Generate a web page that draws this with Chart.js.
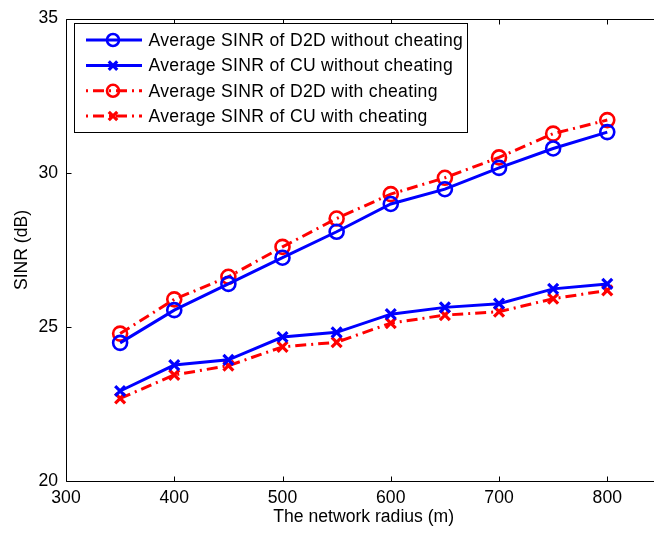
<!DOCTYPE html>
<html>
<head>
<meta charset="utf-8">
<style>
html,body{margin:0;padding:0;background:#fff;overflow:hidden;width:654px;height:536px}
#wrap{position:relative;width:654px;height:536px;overflow:hidden}
canvas{display:block}
</style>
<script src="https://cdn.jsdelivr.net/npm/chart.js@4"></script>
</head>
<body>
<div id="wrap"><canvas id="c" width="680" height="536"></canvas></div>
<script>
// ---- data ----
const radius = [350, 400, 450, 500, 550, 600, 650, 700, 750, 800];
const d2dWithout = [24.49, 25.55, 26.40, 27.25, 28.09, 28.99, 29.47, 30.16, 30.79, 31.32];
const cuWithout  = [22.93, 23.77, 23.94, 24.68, 24.83, 25.42, 25.64, 25.76, 26.24, 26.40];
const d2dWith    = [24.79, 25.90, 26.63, 27.60, 28.52, 29.31, 29.84, 30.50, 31.27, 31.71];
const cuWith     = [22.69, 23.45, 23.75, 24.36, 24.51, 25.13, 25.39, 25.50, 25.92, 26.19];
const seriesLabels = [
  'Average SINR of D2D without cheating',
  'Average SINR of CU without cheating',
  'Average SINR of D2D with cheating',
  'Average SINR of CU with cheating'
];
const xTicks = [300, 400, 500, 600, 700, 800];
const yTicks = [20, 25, 30, 35];
const xTitle = 'The network radius (m)';
const yTitle = 'SINR (dB)';

const FONT = '"Liberation Sans", Arial, Helvetica, sans-serif';
const FS = 17.6;
const BLUE = '#0000ff', RED = '#ff0000';
const DASHDOT = [11, 5, 2, 5];

const pts = arr => arr.map((v, i) => ({x: radius[i], y: v}));

function mk(label, data, color, dash, style) {
  return {
    label, data: pts(data),
    borderColor: color, backgroundColor: 'rgba(0,0,0,0)',
    borderWidth: 3, borderDash: dash,
    pointStyle: style,
    pointRadius: 7,
    pointBorderWidth: style === 'circle' ? 2.6 : 3.2,
    pointBorderColor: color, pointBackgroundColor: 'rgba(0,0,0,0)',
    pointHoverRadius: 0, tension: 0, fill: false
  };
}

const datasets = [
  mk(seriesLabels[0], d2dWithout, BLUE, [], 'circle'),
  mk(seriesLabels[1], cuWithout, BLUE, [], 'crossRot'),
  mk(seriesLabels[2], d2dWith, RED, DASHDOT, 'circle'),
  mk(seriesLabels[3], cuWith, RED, DASHDOT, 'crossRot')
];

function drawMarker(ctx, style, x, y, r) {
  ctx.beginPath();
  if (style === 'circle') {
    ctx.arc(x, y, r, 0, Math.PI * 2);
  } else {
    const o = r * Math.cos(Math.PI / 4);
    ctx.moveTo(x - o, y - o); ctx.lineTo(x + o, y + o);
    ctx.moveTo(x - o, y + o); ctx.lineTo(x + o, y - o);
  }
  ctx.stroke();
}

const framePlugin = {
  id: 'frame',
  afterDraw(chart) {
    const ctx = chart.ctx;
    const {left, right, top, bottom} = chart.chartArea;
    const xs = chart.scales.x, ys = chart.scales.y;
    const L = Math.round(left) + 0.5, R = Math.round(right) + 0.5;
    const T = Math.round(top) + 0.5, B = Math.round(bottom) + 0.5;
    ctx.save();
    ctx.strokeStyle = '#000';
    ctx.lineWidth = 1;
    ctx.setLineDash([]);
    ctx.beginPath();
    ctx.rect(L, T, R - L, B - T);
    xs.ticks.forEach(t => {
      const p = Math.round(xs.getPixelForValue(t.value)) + 0.5;
      ctx.moveTo(p, B); ctx.lineTo(p, B - 5);
      ctx.moveTo(p, T); ctx.lineTo(p, T + 5);
    });
    ys.ticks.forEach(t => {
      const p = Math.round(ys.getPixelForValue(t.value)) + 0.5;
      ctx.moveTo(L, p); ctx.lineTo(L + 5, p);
      ctx.moveTo(R, p); ctx.lineTo(R - 5, p);
    });
    ctx.stroke();

    // legend box
    const bx0 = 74.5, by0 = 23.5, bx1 = 467.5, by1 = 132.5;
    ctx.fillStyle = '#fff';
    ctx.fillRect(bx0, by0, bx1 - bx0, by1 - by0);
    ctx.strokeRect(bx0, by0, bx1 - bx0, by1 - by0);
    const rowY = [40, 65.6, 90.8, 116];
    chart.data.datasets.forEach((ds, i) => {
      const y = rowY[i];
      ctx.strokeStyle = ds.borderColor;
      ctx.lineWidth = ds.borderWidth;
      ctx.setLineDash(ds.borderDash || []);
      ctx.lineDashOffset = (ds.borderDash && ds.borderDash.length) ? 16 : 0;
      ctx.beginPath();
      ctx.moveTo(86, y); ctx.lineTo(142, y);
      ctx.stroke();
      ctx.setLineDash([]);
      ctx.lineDashOffset = 0;
      ctx.lineWidth = ds.pointBorderWidth;
      drawMarker(ctx, ds.pointStyle, 113, y, 6);
      ctx.fillStyle = '#000';
      ctx.font = FS + 'px ' + FONT;
      ctx.textBaseline = 'middle';
      ctx.textAlign = 'left';
      if ('letterSpacing' in ctx) ctx.letterSpacing = '0.3px';
      ctx.fillText(ds.label, 148.5, y + 1);
      if ('letterSpacing' in ctx) ctx.letterSpacing = '0px';
    });
    ctx.restore();
  }
};

new Chart(document.getElementById('c'), {
  type: 'line',
  data: {datasets},
  plugins: [framePlugin],
  options: {
    responsive: false,
    animation: false,
    devicePixelRatio: 1,
    layout: {padding: {top: 10, right: 18.6, left: 0, bottom: 0}},
    plugins: {legend: {display: false}, tooltip: {enabled: false}},
    events: [],
    scales: {
      x: {
        type: 'linear', min: 300, max: 850,
        afterBuildTicks: s => { s.ticks = xTicks.map(v => ({value: v})); },
        afterFit: s => { s.height = 54.6; },
        grid: {display: false, drawTicks: false},
        border: {display: false},
        ticks: {color: '#000', font: {family: FONT, size: FS}, padding: 6.5, maxRotation: 0,
                autoSkip: false, callback: v => String(v)},
        title: {display: true, text: xTitle, color: '#000', font: {family: FONT, size: FS},
                padding: {top: 0, bottom: 8.4}}
      },
      y: {
        type: 'linear', min: 20, max: 35,
        afterBuildTicks: s => { s.ticks = yTicks.map(v => ({value: v})); },
        afterFit: s => { s.width = 66; },
        grid: {display: false, drawTicks: false},
        border: {display: false},
        ticks: {color: '#000', font: {family: FONT, size: FS}, padding: 8, callback: v => String(v)},
        title: {display: true, text: yTitle, color: '#000', font: {family: FONT, size: FS},
                padding: {top: 12, bottom: 0}}
      }
    }
  }
});
</script>
</body>
</html>
